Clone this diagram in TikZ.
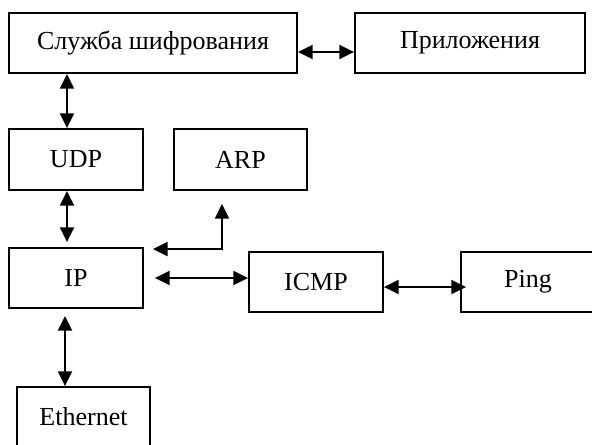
\documentclass[tikz,border=0pt]{standalone}
\usepackage{fontspec}
\setmainfont{Liberation Serif}
\usetikzlibrary{arrows.meta}
\begin{document}
\begin{tikzpicture}[x=0.75pt,y=-0.75pt,
  box/.style={draw, line width=1.4pt, rectangle, inner sep=0pt,
              font=\fontsize{19.5}{23}\selectfont},
  tip/.tip={Triangle[length=11pt,width=10.5pt]},
  link/.style={line width=1.4pt, tip-tip}]
\useasboundingbox (0,0) rectangle (592,444);
\clip (0,0) rectangle (592,444);

% protocol blocks
\node[box, minimum width=216pt,   minimum height=45pt]    (crypt) at (153,43)    {Служба шифрования};
\node[box, minimum width=172.5pt, minimum height=45pt]    (apps)  at (470,43)    {Приложения};
\node[box, minimum width=100.5pt, minimum height=45.75pt] (udp)   at (76,159.5)  {UDP};
\node[box, minimum width=99.75pt, minimum height=45.75pt] (arp)   at (240.5,159.5) {ARP};
\node[box, minimum width=100.5pt, minimum height=45pt]    (ip)    at (76,278)    {IP};
\node[box, minimum width=100.5pt, minimum height=45pt]    (icmp)  at (316,282)   {ICMP};
\node[box, minimum width=100.5pt, minimum height=45pt]    (ping)  at (528,282)   {Ping};
\node[box, minimum width=99.75pt, minimum height=45pt]    (eth)   at (83.5,417)  {Ethernet};

% data paths between the blocks
\draw[link] ([yshift=-6.75pt]crypt.east) -- ([yshift=-6.75pt]apps.west);
\draw[link] ([xshift=-6.75pt]udp.north |- crypt.south) -- ([xshift=-6.75pt]udp.north);
\draw[link] ([xshift=-6.75pt]udp.south) -- ([xshift=-6.75pt,yshift=3.75pt]ip.north);
\draw[link] ([xshift=-8.25pt,yshift=-5.25pt]ip.south) -- ([xshift=-8.25pt]ip.south |- eth.north);
\draw[link] ([xshift=6.75pt,yshift=-1.5pt]ip.north east) -| ([xshift=-13.9pt,yshift=-9.75pt]arp.south);
\draw[link] ([xshift=8.25pt]ip.east) -- (ip.east -| icmp.west);
\draw[link] ([yshift=-3.75pt]icmp.east) -- ([xshift=4.5pt,yshift=-3.75pt]ping.west);
\end{tikzpicture}
\end{document}
